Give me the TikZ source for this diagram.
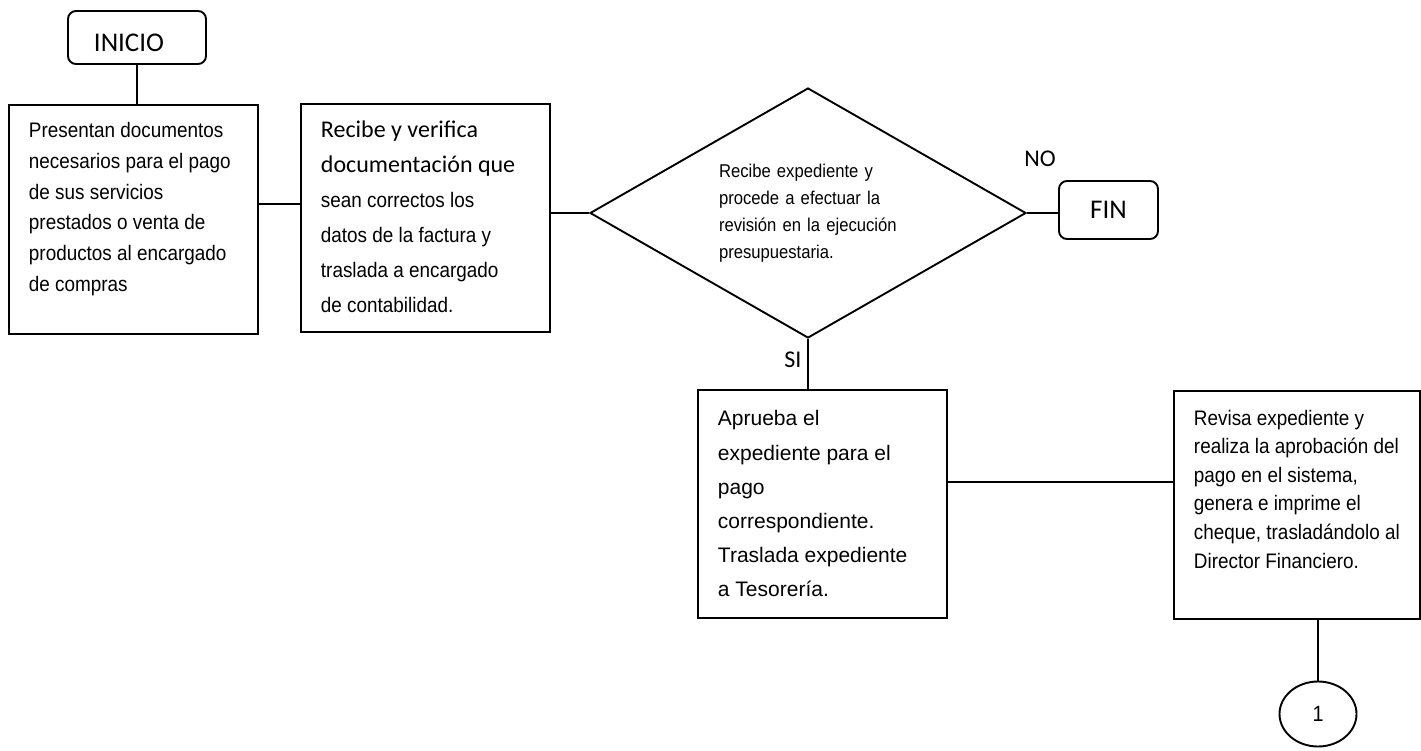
\documentclass[tikz,border=0pt]{standalone}
\usepackage{fontspec}
\setmainfont{Liberation Sans}
\newfontfamily\narrow[FakeStretch=0.9]{Liberation Sans}
\newfontfamily\carl{Carlito}
\usetikzlibrary{shapes.geometric}
\newcommand{\boxtxt}[5]{\hspace*{#1}\parbox[c][#3][t]{#2}{\raggedright\vspace*{#4}#5}}
\tikzset{
  proc/.style={draw=black, line width=1.9pt, inner sep=0pt, anchor=north west},
  term/.style={draw=black, line width=1.9pt, rounded corners=8pt, inner sep=0pt, font=\carl\fontsize{27}{30}\selectfont},
  conn/.style={draw=black, line width=1.6pt},
  lbl/.style={inner sep=0pt, font=\carl\fontsize{24}{28}\selectfont}
}
\begin{document}
\begin{tikzpicture}[x=1pt,y=-1pt]
\useasboundingbox[fill=white] (0,0) rectangle (1421,750);

\node[term, minimum width=138pt, minimum height=53pt, text height=28pt, text depth=0pt] (ini) at (137,37.5) {\hspace*{-16pt}INICIO};

\node[proc] (b1) at (8,104) {\boxtxt{20pt}{229pt}{229pt}{17.7pt}{\narrow\fontsize{21}{30.7}\selectfont Presentan documentos\\ necesarios para el pago\\ de sus servicios\\ prestados o venta de\\ productos al encargado\\ de compras}};

\node[proc] (b2) at (300,103) {\boxtxt{20pt}{229pt}{228pt}{17pt}{\narrow\fontsize{21}{35}\selectfont {\carl\fontsize{24}{35}\selectfont Recibe y verifica}\\ {\carl\fontsize{24}{35}\selectfont documentación que}\\ sean correctos los\\ datos de la factura y\\ traslada a encargado\\ de contabilidad.}};

\node[diamond, draw=black, line width=1.9pt, aspect=1.744, minimum width=436pt, minimum height=250pt, inner sep=0pt, text width=178pt, align=left, font=\narrow\fontsize{18.5}{27}\selectfont] (dia) at (808,213) {Recibe expediente y\\ procede a efectuar la\\ revisión en la ejecución\\ presupuestaria.};

\node[term, minimum width=99pt, minimum height=58pt] (fin) at (1108.5,210) {FIN};

\node[lbl] (no) at (1040,159) {NO};
\node[lbl] (si) at (793,360) {SI};

\node[proc] (b3) at (697,389) {\boxtxt{20pt}{229pt}{228pt}{20.7pt}{\fontsize{21}{34.2}\selectfont Aprueba el\\ expediente para el\\ pago\\ correspondiente.\\ Traslada expediente\\ a Tesorería.}};

\node[proc] (b4) at (1173,390) {\boxtxt{20pt}{226pt}{228pt}{19pt}{\narrow\fontsize{21}{28.6}\selectfont Revisa expediente y\\ realiza la aprobación del\\ pago en el sistema,\\ genera e imprime el\\ cheque, trasladándolo al\\ Director Financiero.}};

\node[ellipse, draw=black, line width=1.9pt, minimum width=77pt, minimum height=65pt, inner sep=0pt, font=\narrow\fontsize{22}{24}\selectfont] (c1) at (1318,714) {1};

\draw[conn] (ini.south) -- (ini.south |- b1.north);
\draw[conn] (b1.east |- 0,204) -- (b2.west |- 0,204);
\draw[conn] (b2.east |- dia.west) -- (dia.west);
\draw[conn] (dia.east) -- (dia.east -| fin.west);
\draw[conn] (dia.south) -- (dia.south |- b3.north);
\draw[conn] (b3.east |- 0,482) -- (b4.west |- 0,482);
\draw[conn] (c1.north |- b4.south) -- (c1.north);
\end{tikzpicture}
\end{document}
